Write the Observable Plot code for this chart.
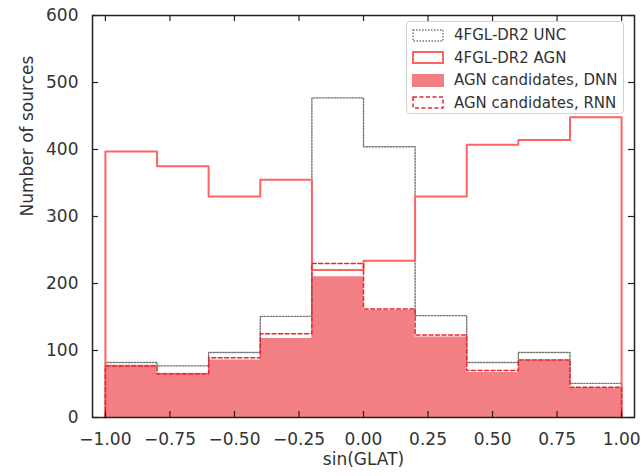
<!DOCTYPE html>
<html>
<head>
<meta charset="utf-8">
<script src="https://cdn.jsdelivr.net/npm/d3@7"></script>
<script src="https://cdn.jsdelivr.net/npm/@observablehq/plot@0.6"></script>
<style>
  html, body { margin: 0; padding: 0; background: #fff; }
  #wrap { position: relative; width: 641px; height: 476px; font-family: "DejaVu Sans", sans-serif; }
  #legend { position: absolute; left: 406px; top: 21px; width: 218px; height: 93px; box-sizing: border-box;
            border: 1px solid #d0d0d0; border-radius: 4px; background: rgba(255,255,255,0.85); }
  #legend .row { position: absolute; left: 5px; height: 16px; display: flex; align-items: center; }
  #legend .row span { margin-left: 10px; font-size: 15px; color: #333; white-space: nowrap; }
</style>
</head>
<body>
<div id="wrap"><div id="legend"></div></div>
<script>
// Bin edges of sin(GLAT)
const binEdges = [-1.0, -0.8, -0.6, -0.4, -0.2, 0.0, 0.2, 0.4, 0.6, 0.8, 1.0];
// Series counts per bin
const uncCounts = [82, 77, 97, 151, 477, 404, 152, 82, 97, 51];
const agnCounts = [397, 375, 330, 355, 220, 234, 330, 407, 414, 448];
const dnnCounts = [78, 66, 86, 118, 210, 160, 120, 67, 86, 44];
const rnnCounts = [77, 65, 89, 125, 230, 162, 123, 70, 86, 45];
// Tick labels
const xTicks = [-1.0, -0.75, -0.5, -0.25, 0.0, 0.25, 0.5, 0.75, 1.0];
const yTicks = [0, 100, 200, 300, 400, 500, 600];
const seriesNames = ["4FGL-DR2 UNC", "4FGL-DR2 AGN", "AGN candidates, DNN", "AGN candidates, RNN"];

const colFill = "#f17f83";
const colAgn = "#ff6363";
const colRnn = "#e5262c";
const colUnc = "#777";

function stepPoints(counts) {
  const pts = [{x: binEdges[0], y: 0}];
  counts.forEach((c, i) => pts.push({x: binEdges[i], y: c}));
  pts.push({x: binEdges[binEdges.length - 1], y: counts[counts.length - 1]});
  pts.push({x: binEdges[binEdges.length - 1], y: 0});
  return pts;
}

const W = 641, H = 476, mL = 92, mR = 7, mT = 15, mB = 59;
const fw = W - mL - mR, fh = H - mT - mB, tl = 6;
const fmt = d3.format(".2f");

const chart = Plot.plot({
  width: W, height: H,
  marginLeft: mL, marginRight: mR, marginTop: mT, marginBottom: mB,
  style: {fontFamily: "DejaVu Sans, sans-serif", fontSize: "17px", color: "#333", background: "#fff"},
  x: {domain: [-1.05, 1.05]},
  y: {domain: [0, 600]},
  marks: [
    Plot.areaY(stepPoints(dnnCounts), {x: "x", y: "y", curve: "step-after", fill: colFill}),
    Plot.line(stepPoints(uncCounts), {x: "x", y: "y", curve: "step-after", stroke: colUnc, strokeWidth: 1.4, strokeDasharray: "1.5,1.5"}),
    Plot.line(stepPoints(agnCounts), {x: "x", y: "y", curve: "step-after", stroke: colAgn, strokeWidth: 2}),
    Plot.line(stepPoints(rnnCounts), {x: "x", y: "y", curve: "step-after", stroke: colRnn, strokeWidth: 1.5, strokeDasharray: "4,2.5"}),
    Plot.axisX({ticks: xTicks, tickSize: 0, tickPadding: 15, tickFormat: fmt, label: null, fontSize: 17}),
    Plot.axisY({ticks: yTicks, tickSize: 0, tickPadding: 14, label: null, fontSize: 17}),
    Plot.tickX(xTicks, {x: d => d, insetTop: fh - tl, stroke: "#222", strokeWidth: 1.2}),
    Plot.tickX(xTicks, {x: d => d, insetBottom: fh - tl, stroke: "#222", strokeWidth: 1.2}),
    Plot.tickY(yTicks, {y: d => d, insetRight: fw - tl, stroke: "#222", strokeWidth: 1.2}),
    Plot.tickY(yTicks, {y: d => d, insetLeft: fw - tl, stroke: "#222", strokeWidth: 1.2}),
    Plot.frame({stroke: "#222", strokeWidth: 1.5}),
    Plot.text(["sin(GLAT)"], {frameAnchor: "bottom", dy: 47, fontSize: 17, fill: "#333"}),
    Plot.text(["Number of sources"], {frameAnchor: "left", dx: -65, rotate: -90, fontSize: 17, fill: "#333"})
  ]
});
document.getElementById("wrap").prepend(chart);

// Legend
const legend = document.getElementById("legend");
const swatches = [
  `<rect x="1" y="1" width="30" height="11" fill="none" stroke="${colUnc}" stroke-width="1.4" stroke-dasharray="1.5,1.5"/>`,
  `<rect x="1" y="1" width="30" height="11" fill="none" stroke="${colAgn}" stroke-width="2"/>`,
  `<rect x="0" y="0" width="32" height="13" fill="${colFill}"/>`,
  `<rect x="1" y="1" width="30" height="11" fill="none" stroke="${colRnn}" stroke-width="1.5" stroke-dasharray="4,2.5"/>`
];
const rowTops = [5, 27.5, 50, 72.5];
seriesNames.forEach((name, i) => {
  const row = document.createElement("div");
  row.className = "row";
  row.style.top = rowTops[i] + "px";
  row.innerHTML = `<svg width="32" height="13">${swatches[i]}</svg><span>${name}</span>`;
  legend.appendChild(row);
});
</script>
</body>
</html>
